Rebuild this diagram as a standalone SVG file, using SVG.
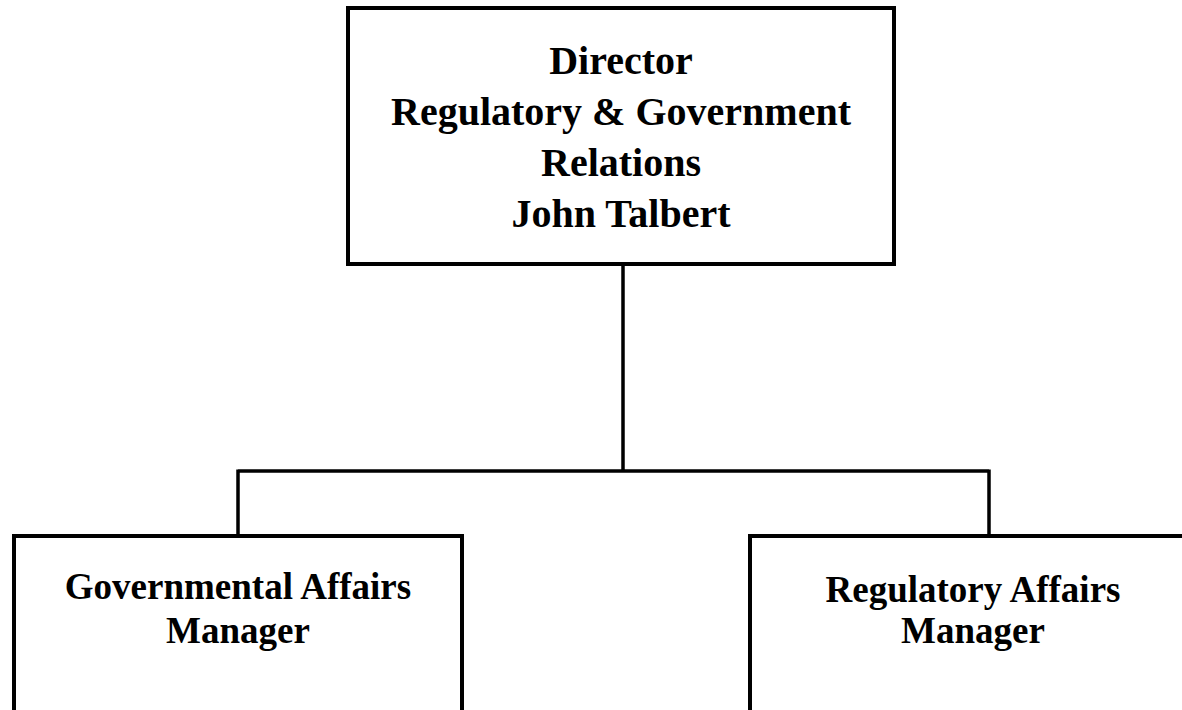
<svg xmlns="http://www.w3.org/2000/svg" width="1182" height="710" viewBox="0 0 1182 710">
<style>
.box{fill:#fff;stroke:#000;stroke-width:4}
.t{font-family:"Liberation Serif","Times New Roman",serif;font-weight:bold;fill:#000;text-anchor:middle}
.big{font-size:40px}
.small{font-size:37px}
.conn{fill:none;stroke:#000;stroke-width:3.5}
</style>
<rect width="1182" height="710" fill="#fff"/>
<g id="connectors">
<path class="conn" d="M623 264 V471 M238 471 H989 M238 469.5 V536 M989 469.5 V536"/>
</g>
<g id="director">
<rect class="box" x="348" y="8" width="546" height="256"/>
<text class="t big" x="621" y="74">Director</text>
<text class="t big" x="621" y="125">Regulatory &amp; Government</text>
<text class="t big" x="621" y="176">Relations</text>
<text class="t big" x="621" y="227">John Talbert</text>
</g>
<g id="gov-affairs">
<rect class="box" x="14" y="536" width="448" height="200"/>
<text class="t small" x="238" y="599">Governmental Affairs</text>
<text class="t small" x="238" y="643">Manager</text>
</g>
<g id="reg-affairs">
<rect class="box" x="750" y="536" width="460" height="200"/>
<text class="t small" x="973" y="602">Regulatory Affairs</text>
<text class="t small" x="973" y="643">Manager</text>
</g>
</svg>
